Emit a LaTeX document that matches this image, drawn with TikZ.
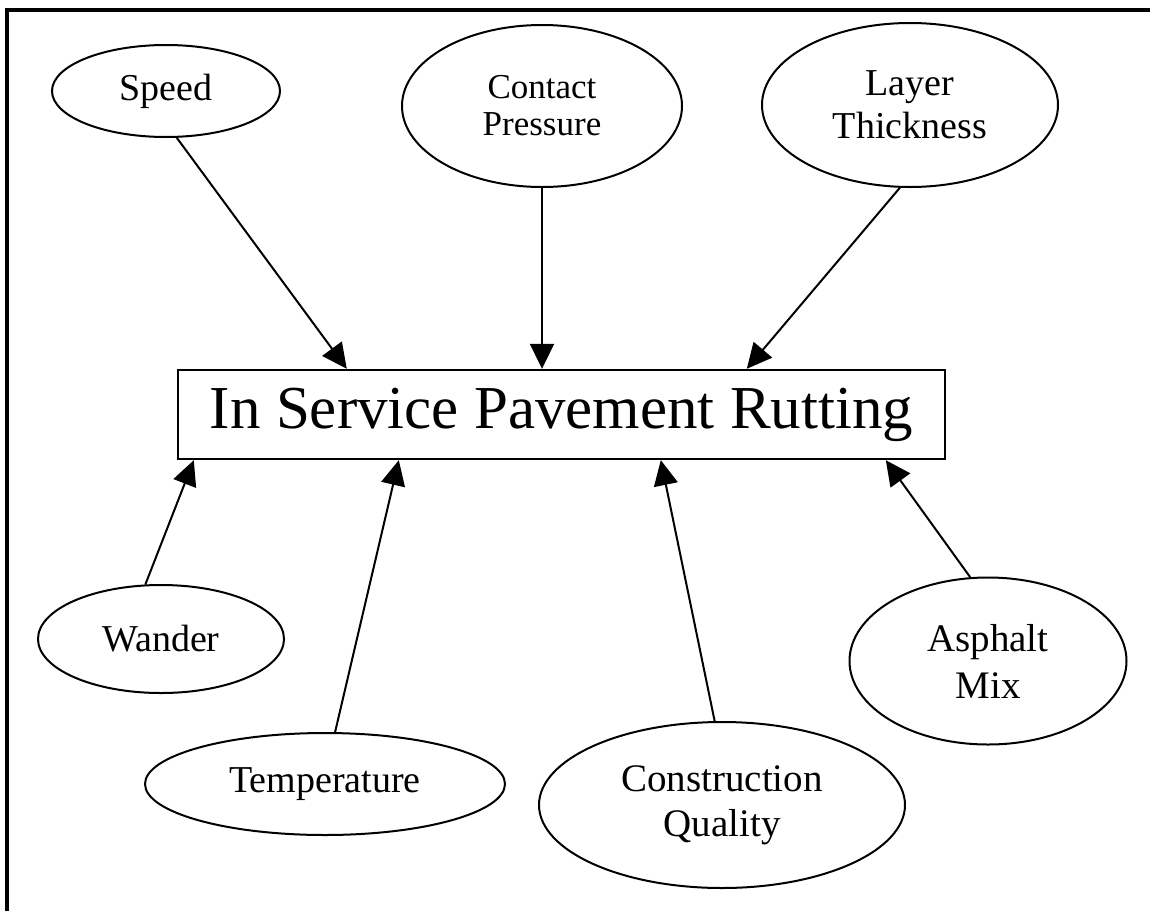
\documentclass[tikz,border=0pt]{standalone}
\usepackage{fontspec}
\setmainfont{Liberation Serif}
\usetikzlibrary{shapes.geometric,arrows.meta}

\tikzset{
  factor/.style={draw, ellipse, line width=2pt, inner sep=0pt, align=center,
    font=\fontsize{38}{44}\selectfont},
  effect/.style={-{Triangle[length=25pt,width=24pt]}, line width=2pt},
}

\begin{document}
\begin{tikzpicture}[x=1pt,y=-1pt]
  \useasboundingbox (0,0) rectangle (1160,911);
  % frame, only top and left edges
  \draw[line width=3.5pt] (7,911) -- (7,10) -- (1150,10);

  \node[draw, line width=2.4pt, minimum width=767pt, minimum height=89pt, inner sep=0pt,
    font=\fontsize{61}{70}\selectfont] (rut) at (561.5,414.5) {In Service Pavement Rutting};

  % factors above
  \node[factor, minimum width=228pt, minimum height=92pt] (speed) at (166,91) {Speed};
  \node[factor, minimum width=280pt, minimum height=162pt, font=\fontsize{35}{37}\selectfont]
    (contact) at (542,106) {Contact\\Pressure};
  \node[factor, minimum width=296pt, minimum height=164pt, font=\fontsize{38}{43}\selectfont]
    (layer) at (910,105) {Layer\\Thickness};

  % factors below
  \node[factor, minimum width=246pt, minimum height=108pt] (wander) at (161,639) {Wander};
  \node[factor, minimum width=360pt, minimum height=102pt] (temp) at (325,784) {Temperature};
  \node[factor, minimum width=366pt, minimum height=166pt, font=\fontsize{39}{45}\selectfont]
    (constr) at (722,805) {Construction\\Quality};
  \node[factor, minimum width=277pt, minimum height=167pt, font=\fontsize{39}{47}\selectfont]
    (asphalt) at (988,661) {Asphalt\\Mix};

  % where the arrows meet the box
  \coordinate (inSpeed) at ([xshift=170pt]rut.north west);
  \coordinate (inLayer) at ([xshift=570pt]rut.north west);
  \coordinate (inWander) at ([xshift=17pt]rut.south west);
  \coordinate (inTemp) at ([xshift=222pt]rut.south west);
  \coordinate (inConstr) at ([xshift=484pt]rut.south west);
  \coordinate (inAsphalt) at ([xshift=709pt]rut.south west);

  \draw[effect] (speed.283) -- (inSpeed);
  \draw[effect] (contact.south) -- (contact.south |- rut.north);
  \draw[effect] (layer.263) -- (inLayer);
  \draw[effect] (wander.106) -- (inWander);
  \draw[effect] (temp.79) -- (inTemp);
  \draw[effect] (constr.95) -- (inConstr);
  \draw[effect] (asphalt.102) -- (inAsphalt);
\end{tikzpicture}
\end{document}
